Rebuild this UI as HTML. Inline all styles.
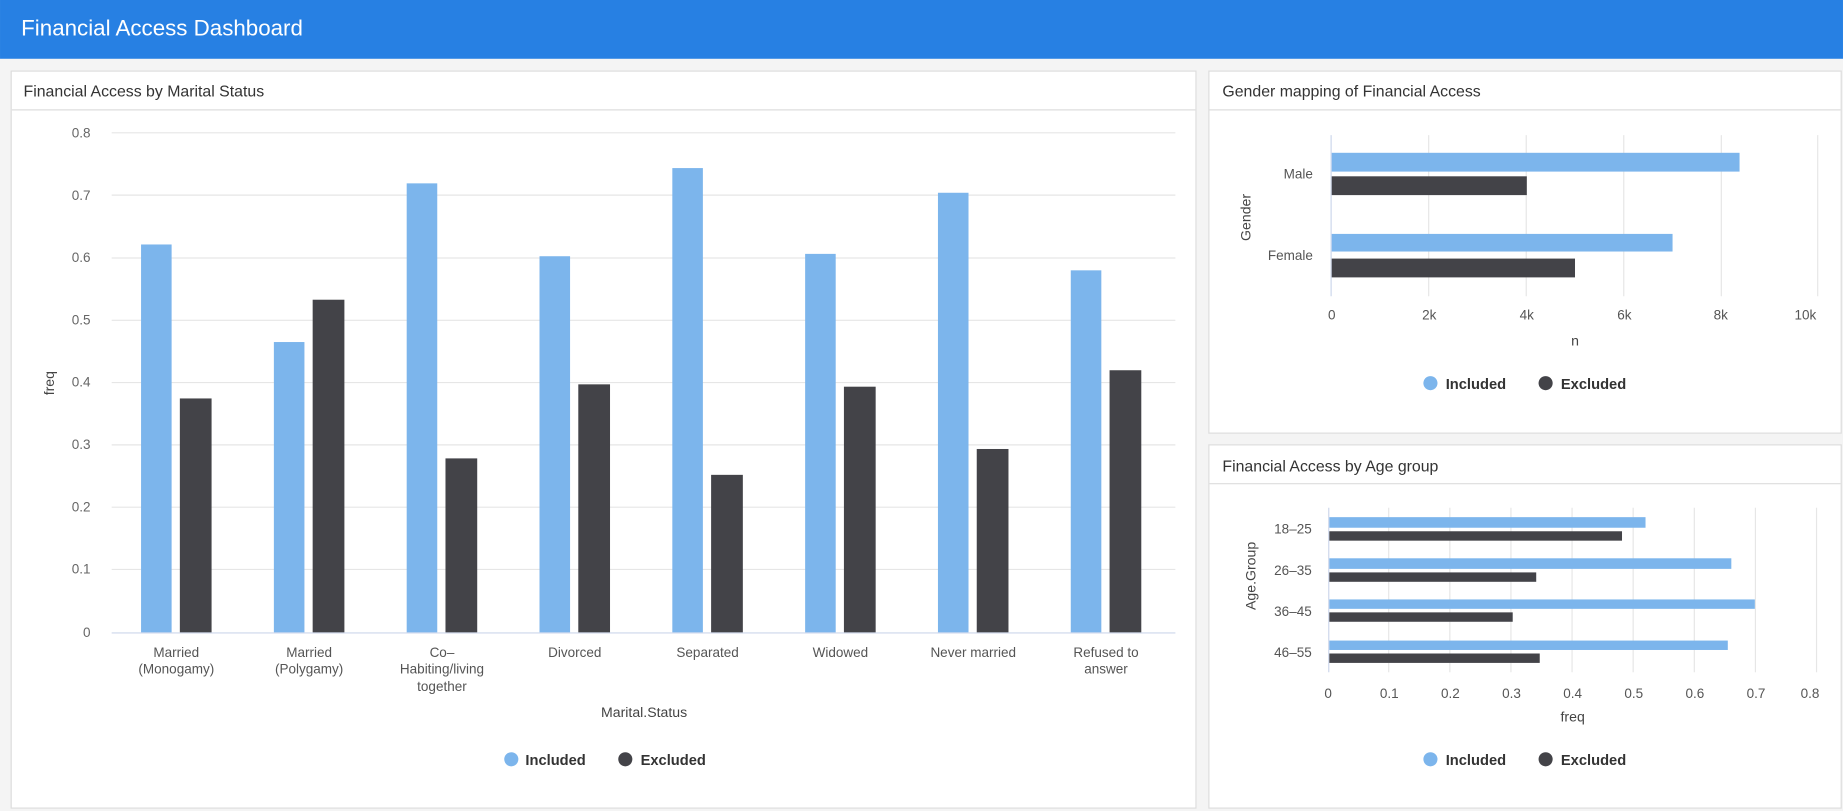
<!DOCTYPE html>
<html><head><meta charset="utf-8"><style>
html,body{margin:0;padding:0;background:#f4f4f4;}
svg{display:block;font-family:"Liberation Sans",sans-serif;}
</style></head><body>
<svg width="1843" height="811" viewBox="0 0 1568 690" xmlns="http://www.w3.org/2000/svg">
<rect width="1568" height="690" fill="#f4f4f4"/>
<rect width="1568" height="50" fill="#2780e3"/>
<text x="18" y="30" font-size="19" fill="#fff">Financial Access Dashboard</text>

<!-- panels -->
<rect x="9.5" y="60.5" width="1008" height="627" fill="#fff" stroke="#ddd"/>
<line x1="10" y1="93.5" x2="1017" y2="93.5" stroke="#ddd"/>
<text x="20" y="82" font-size="13.5" fill="#333">Financial Access by Marital Status</text>

<rect x="1028.5" y="60.5" width="538" height="308" fill="#fff" stroke="#ddd"/>
<line x1="1029" y1="93.5" x2="1566" y2="93.5" stroke="#ddd"/>
<text x="1040" y="82" font-size="13.5" fill="#333">Gender mapping of Financial Access</text>

<rect x="1028.5" y="378.5" width="538" height="309" fill="#fff" stroke="#ddd"/>
<line x1="1029" y1="411.5" x2="1566" y2="411.5" stroke="#ddd"/>
<text x="1040" y="401" font-size="13.5" fill="#333">Financial Access by Age group</text>

<!-- main chart -->
<g stroke="#e6e6e6" stroke-width="1">
<line x1="95" y1="113" x2="1000" y2="113"/><line x1="95" y1="166" x2="1000" y2="166"/>
<line x1="95" y1="219.5" x2="1000" y2="219.5"/><line x1="95" y1="272.5" x2="1000" y2="272.5"/>
<line x1="95" y1="325.5" x2="1000" y2="325.5"/><line x1="95" y1="378.5" x2="1000" y2="378.5"/>
<line x1="95" y1="431.5" x2="1000" y2="431.5"/><line x1="95" y1="484.5" x2="1000" y2="484.5"/>
</g>
<line x1="95" y1="538.5" x2="1000" y2="538.5" stroke="#ccd6eb"/>
<g font-size="11.5" fill="#666" text-anchor="end">
<text x="77" y="117">0.8</text><text x="77" y="170">0.7</text><text x="77" y="223">0.6</text>
<text x="77" y="276">0.5</text><text x="77" y="329">0.4</text><text x="77" y="382">0.3</text>
<text x="77" y="435">0.2</text><text x="77" y="488">0.1</text><text x="77" y="542">0</text>
</g>
<text transform="translate(46,326) rotate(-90)" font-size="12" fill="#444" text-anchor="middle">freq</text>
<g fill="#7cb5ec">
<rect x="120" y="208" width="26" height="330"/><rect x="233" y="291" width="26" height="247"/>
<rect x="346" y="156" width="26" height="382"/><rect x="459" y="218" width="26" height="320"/>
<rect x="572" y="143" width="26" height="395"/><rect x="685" y="216" width="26" height="322"/>
<rect x="798" y="164" width="26" height="374"/><rect x="911" y="230" width="26" height="308"/>
</g>
<g fill="#434348">
<rect x="153" y="339" width="27" height="199"/><rect x="266" y="255" width="27" height="283"/>
<rect x="379" y="390" width="27" height="148"/><rect x="492" y="327" width="27" height="211"/>
<rect x="605" y="404" width="27" height="134"/><rect x="718" y="329" width="27" height="209"/>
<rect x="831" y="382" width="27" height="156"/><rect x="944" y="315" width="27" height="223"/>
</g>
<g font-size="11.5" fill="#555" text-anchor="middle">
<text x="150" y="559">Married</text><text x="150" y="573">(Monogamy)</text>
<text x="263" y="559">Married</text><text x="263" y="573">(Polygamy)</text>
<text x="376" y="559">Co–</text><text x="376" y="573">Habiting/living</text><text x="376" y="588">together</text>
<text x="489" y="559">Divorced</text>
<text x="602" y="559">Separated</text>
<text x="715" y="559">Widowed</text>
<text x="828" y="559">Never married</text>
<text x="941" y="559">Refused to</text><text x="941" y="573">answer</text>
</g>
<text x="548" y="610" font-size="12" fill="#444" text-anchor="middle">Marital.Status</text>
<circle cx="435" cy="646" r="6" fill="#7cb5ec"/><text x="447" y="651" font-size="12.5" font-weight="bold" fill="#333">Included</text>
<circle cx="532" cy="646" r="6" fill="#434348"/><text x="545" y="651" font-size="12.5" font-weight="bold" fill="#333">Excluded</text>

<!-- gender chart -->
<g stroke="#e6e6e6">
<line x1="1215.5" y1="115" x2="1215.5" y2="252"/><line x1="1298.5" y1="115" x2="1298.5" y2="252"/>
<line x1="1381.5" y1="115" x2="1381.5" y2="252"/><line x1="1464.5" y1="115" x2="1464.5" y2="252"/>
<line x1="1546.5" y1="115" x2="1546.5" y2="252"/>
</g>
<line x1="1132.5" y1="115" x2="1132.5" y2="252" stroke="#ccd6eb"/>
<rect x="1133" y="130" width="347" height="16" fill="#7cb5ec"/>
<rect x="1133" y="150" width="166" height="16" fill="#434348"/>
<rect x="1133" y="199" width="290" height="15" fill="#7cb5ec"/>
<rect x="1133" y="220" width="207" height="16" fill="#434348"/>
<g font-size="11.5" fill="#555" text-anchor="end"><text x="1117" y="152">Male</text><text x="1117" y="221">Female</text></g>
<text transform="translate(1064,185) rotate(-90)" font-size="12" fill="#444" text-anchor="middle">Gender</text>
<g font-size="11.5" fill="#555" text-anchor="middle">
<text x="1133" y="272">0</text><text x="1216" y="272">2k</text><text x="1299" y="272">4k</text>
<text x="1382" y="272">6k</text><text x="1464" y="272">8k</text><text x="1536" y="272">10k</text>
</g>
<text x="1340" y="294" font-size="12" fill="#444" text-anchor="middle">n</text>
<circle cx="1217" cy="326" r="6" fill="#7cb5ec"/><text x="1230" y="331" font-size="12.5" font-weight="bold" fill="#333">Included</text>
<circle cx="1315" cy="326" r="6" fill="#434348"/><text x="1328" y="331" font-size="12.5" font-weight="bold" fill="#333">Excluded</text>

<!-- age chart -->
<g stroke="#e6e6e6">
<line x1="1181.5" y1="432" x2="1181.5" y2="572"/><line x1="1233.5" y1="432" x2="1233.5" y2="572"/>
<line x1="1285.5" y1="432" x2="1285.5" y2="572"/><line x1="1337.5" y1="432" x2="1337.5" y2="572"/>
<line x1="1389.5" y1="432" x2="1389.5" y2="572"/><line x1="1441.5" y1="432" x2="1441.5" y2="572"/>
<line x1="1493.5" y1="432" x2="1493.5" y2="572"/><line x1="1545.5" y1="432" x2="1545.5" y2="572"/>
</g>
<line x1="1130.5" y1="432" x2="1130.5" y2="572" stroke="#ccd6eb"/>
<g fill="#7cb5ec">
<rect x="1131" y="440" width="269" height="9"/><rect x="1131" y="475" width="342" height="9"/>
<rect x="1131" y="510" width="362" height="8"/><rect x="1131" y="545" width="339" height="8"/>
</g>
<g fill="#434348">
<rect x="1131" y="452" width="249" height="8"/><rect x="1131" y="487" width="176" height="8"/>
<rect x="1131" y="521" width="156" height="8"/><rect x="1131" y="556" width="179" height="8"/>
</g>
<g font-size="11.5" fill="#555" text-anchor="end">
<text x="1116" y="454">18–25</text><text x="1116" y="489">26–35</text>
<text x="1116" y="524">36–45</text><text x="1116" y="559">46–55</text>
</g>
<text transform="translate(1068,490) rotate(-90)" font-size="12" fill="#444" text-anchor="middle">Age.Group</text>
<g font-size="11.5" fill="#555" text-anchor="middle">
<text x="1130" y="594">0</text><text x="1182" y="594">0.1</text><text x="1234" y="594">0.2</text>
<text x="1286" y="594">0.3</text><text x="1338" y="594">0.4</text><text x="1390" y="594">0.5</text>
<text x="1442" y="594">0.6</text><text x="1494" y="594">0.7</text><text x="1540" y="594">0.8</text>
</g>
<text x="1338" y="614" font-size="12" fill="#444" text-anchor="middle">freq</text>
<circle cx="1217" cy="646" r="6" fill="#7cb5ec"/><text x="1230" y="651" font-size="12.5" font-weight="bold" fill="#333">Included</text>
<circle cx="1315" cy="646" r="6" fill="#434348"/><text x="1328" y="651" font-size="12.5" font-weight="bold" fill="#333">Excluded</text>
</svg>
</body></html>
